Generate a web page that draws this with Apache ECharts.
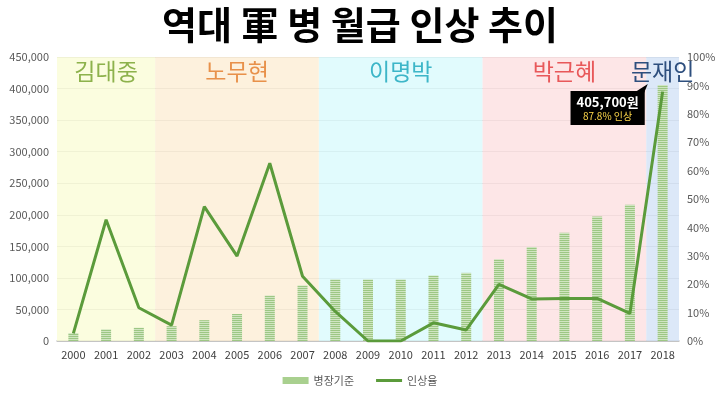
<!DOCTYPE html>
<html><head><meta charset="utf-8">
<script src="https://cdn.jsdelivr.net/npm/echarts@6/dist/echarts.min.js"></script>
<style>html,body{margin:0;padding:0;background:#fff}#c{width:720px;height:395px}</style>
</head><body><div id="c"></div>
<script>
const titleText = '역대 軍 병 월급 인상 추이';
const years = ['2000','2001','2002','2003','2004','2005','2006','2007','2008','2009','2010','2011','2012','2013','2014','2015','2016','2017','2018'];
const pay = [12500,18500,21000,23500,33000,42800,72000,88000,97500,97500,97500,103800,108000,129600,149000,171400,197100,216000,405700];
const rise = [0.027,0.427,0.117,0.056,0.473,0.299,0.626,0.228,0.104,0,0,0.064,0.039,0.199,0.148,0.150,0.150,0.097,0.878];
const periods = ['김대중','노무현','이명박','박근혜','문재인'];
const periodStart = ['2000','2003','2008','2013','2018'];
const periodEnd = ['2002','2007','2012','2017','2018'];
const periodBg = ['rgba(249,252,212,0.75)','rgba(252,236,210,0.75)','rgba(215,250,252,0.75)','rgba(252,222,223,0.75)','rgba(208,224,246,0.75)'];
const periodFg = ['#8db24c','#e8914a','#3db6c8','#e8585a','#2e4f7e'];
const seriesNames = ['병장기준','인상율'];
const calloutValue = '405,700원';
const calloutRise = '87.8% 인상';

const font = '"Noto Sans CJK KR", "Noto Sans", sans-serif';

// striped bar pattern
const cv = document.createElement('canvas');
cv.width = 2; cv.height = 2;
const cx = cv.getContext('2d');
cx.fillStyle = '#9dc784'; cx.fillRect(0,0,2,1);
cx.fillStyle = '#d0e5c1'; cx.fillRect(0,1,2,1);

const chart = echarts.init(document.getElementById('c'), null, {renderer:'canvas'});
const areas = periods.map((p,i)=>[
  {name:p, xAxis: years.indexOf(periodStart[i]), itemStyle:{color:periodBg[i]},
   label:{color:periodFg[i]}},
  {xAxis: years.indexOf(periodEnd[i]) + 1}
]);
const last = years.length - 1;
const lineIcon = 'path://M0,0 L0.01,0 L0,0.01 Z M0,2 L26,2 L26,5 L0,5 Z M0,7 L0.01,7 L0,6.99 Z';
chart.setOption({
  animation:false,
  textStyle:{fontFamily:font},
  title:{text:titleText,left:'center',top:1,textStyle:{fontSize:38,fontWeight:'bold',color:'#000',fontFamily:font}},
  grid:{left:57,right:41,top:57,bottom:54},
  legend:{bottom:4,left:'center',itemGap:22,itemWidth:26,itemHeight:7,
    textStyle:{fontSize:11,color:'#595959',fontFamily:font},
    data:[{name:seriesNames[0],icon:'rect',itemStyle:{color:'#a9d08f'}},
          {name:seriesNames[1],icon:lineIcon,itemStyle:{color:'#5b9b3b'}}]},
  xAxis:[
    {type:'category',data:years,axisTick:{show:false},
     axisLine:{lineStyle:{color:'#bfbfbf',width:1.5}},
     axisLabel:{color:'#404040',fontSize:11,margin:8}},
    {type:'value',min:0,max:years.length,show:false}
  ],
  yAxis:[
    {type:'value',min:0,max:450000,interval:50000,
     axisLabel:{color:'#595959',fontSize:11,formatter:v=>v.toLocaleString('en-US')},
     splitLine:{lineStyle:{color:'#d4d4d4'}},axisLine:{show:false},axisTick:{show:false}},
    {type:'value',min:0,max:1,interval:0.1,position:'right',
     axisLabel:{color:'#595959',fontSize:11,formatter:v=>Math.round(v*100)+'%'},
     splitLine:{show:false},axisLine:{show:false},axisTick:{show:false}}
  ],
  series:[
    {type:'line',xAxisIndex:1,yAxisIndex:0,data:[],silent:true,
     markArea:{silent:true,
       label:{position:'insideTop',distance:3,fontSize:23,fontFamily:font},
       data:areas}},
    {name:seriesNames[0],type:'bar',data:pay,barWidth:10,
     itemStyle:{color:{image:cv,repeat:'repeat'}},
     markPoint:{silent:true,
       data:[
        {coord:[years[last],pay[last]],symbol:'triangle',symbolSize:[8,13],symbolRotate:-40,
         symbolOffset:[-19,4],itemStyle:{color:'#000'},label:{show:false}},
        {coord:[years[last],pay[last]],symbol:'circle',symbolSize:0,
         label:{show:true,position:'inside',offset:[-55,23],
           formatter:'{a|'+calloutValue+'}\n{b|'+calloutRise+'}',
           backgroundColor:'#000',padding:[3,6,3,6],
           rich:{a:{color:'#fff',fontSize:13,fontWeight:'bold',fontFamily:font,lineHeight:16,align:'center'},
                 b:{color:'#ffd84a',fontSize:10,fontFamily:font,lineHeight:12,align:'center'}}}}]}},
    {name:seriesNames[1],type:'line',yAxisIndex:1,data:rise,showSymbol:false,symbol:'none',
     lineStyle:{color:'#5b9b3b',width:3},itemStyle:{color:'#5b9b3b'}}
  ]
});
</script></body></html>
